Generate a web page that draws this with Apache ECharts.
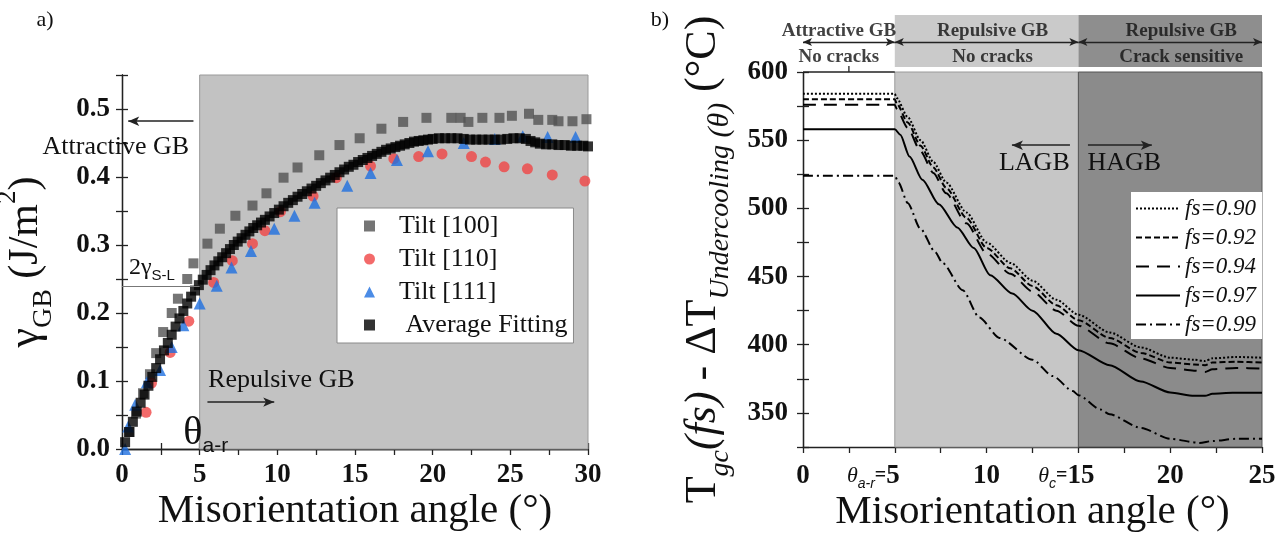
<!DOCTYPE html>
<html>
<head>
<meta charset="utf-8">
<script src="https://cdn.jsdelivr.net/npm/echarts@6/dist/echarts.min.js"></script>
<style>
html, body { margin: 0; padding: 0; background: #fff; }
#chart { width: 1288px; height: 538px; }
</style>
</head>
<body>
<div id="chart"></div>
<script>
// ---- Panel a: grain-boundary energy vs misorientation angle (deg, J/m^2) ----
const tilt100 = [[0.5,0.025],[0.9,0.052],[1.35,0.082],[1.8,0.11],[2.2,0.141],[2.65,0.172],[3.2,0.2],[3.6,0.221],[4.2,0.25],[4.6,0.273],[5.5,0.302],[6.3,0.324],[7.3,0.343],[8.4,0.358],[9.3,0.376],[10.4,0.399],[11.3,0.414],[12.7,0.432],[14.0,0.447],[15.3,0.457],[16.7,0.471],[18.1,0.481],[19.6,0.487],[21.2,0.487],[21.8,0.487],[22.3,0.481],[23.2,0.487],[24.3,0.487],[25.1,0.49],[26.2,0.493],[26.8,0.484],[27.7,0.484],[28.1,0.482],[29.0,0.482],[29.9,0.485]];
const tilt110 = [[1.55,0.054],[1.9,0.097],[3.1,0.142],[4.3,0.188],[5.9,0.245],[7.1,0.277],[8.4,0.302],[9.2,0.321],[10.2,0.349],[12.3,0.372],[13.8,0.399],[16.0,0.416],[17.5,0.427],[19.1,0.43],[20.6,0.434],[22.5,0.43],[23.4,0.422],[24.6,0.415],[26.1,0.412],[27.7,0.403],[29.8,0.394]];
const tilt111 = [[0.2,0.0],[0.4,0.033],[0.85,0.065],[1.6,0.098],[2.45,0.116],[3.2,0.15],[3.95,0.182],[5.0,0.214],[6.1,0.24],[7.05,0.267],[8.3,0.291],[9.8,0.324],[11.1,0.343],[12.4,0.362],[14.5,0.387],[16.0,0.406],[17.7,0.425],[19.7,0.438],[22.0,0.45],[24.0,0.456],[25.8,0.46],[27.4,0.459],[29.2,0.459]];
const avgFit = [[0.2,0.010],[0.45,0.025],[0.7,0.040],[0.95,0.055],[1.2,0.068],[1.45,0.080],[1.7,0.093],[1.95,0.106],[2.2,0.119],[2.45,0.132],[2.7,0.145],[2.95,0.156],[3.2,0.168],[3.45,0.180],[3.7,0.192],[3.95,0.203],[4.2,0.214],[4.45,0.224],[4.7,0.233],[4.95,0.241],[5.2,0.249],[5.45,0.256],[5.7,0.263],[5.95,0.270],[6.2,0.276],[6.45,0.282],[6.7,0.288],[6.95,0.294],[7.2,0.300],[7.45,0.305],[7.7,0.310],[7.95,0.315],[8.2,0.320],[8.45,0.325],[8.7,0.329],[8.95,0.333],[9.2,0.337],[9.5,0.342],[9.8,0.347],[10.1,0.352],[10.4,0.357],[10.7,0.362],[11.0,0.366],[11.3,0.371],[11.6,0.375],[11.9,0.379],[12.2,0.383],[12.5,0.387],[12.8,0.391],[13.1,0.395],[13.4,0.399],[13.7,0.403],[14.0,0.407],[14.3,0.411],[14.6,0.415],[14.9,0.418],[15.2,0.422],[15.5,0.425],[15.8,0.428],[16.1,0.431],[16.4,0.434],[16.7,0.437],[17.0,0.440],[17.3,0.442],[17.6,0.444],[17.9,0.446],[18.2,0.448],[18.5,0.450],[18.8,0.452],[19.1,0.453],[19.4,0.454],[19.7,0.455],[20.0,0.456],[20.4,0.457],[20.8,0.457],[21.2,0.457],[21.6,0.457],[22.0,0.456],[22.4,0.455],[22.8,0.455],[23.2,0.455],[23.6,0.455],[24.0,0.455],[24.4,0.455],[24.8,0.456],[25.2,0.457],[25.6,0.457],[26.0,0.456],[26.3,0.453],[26.6,0.451],[26.9,0.449],[27.3,0.448],[27.7,0.448],[28.1,0.447],[28.5,0.447],[28.9,0.446],[29.3,0.446],[29.7,0.446],[30.0,0.445]];
const tiltNames = ['Tilt [100]', 'Tilt [110]', 'Tilt [111]', 'Average Fitting'];
const gammaSL2 = 0.24;   // 2*gamma_S-L level
const thetaAR = 5;       // attractive/repulsive transition angle
const thetaC = 15;       // LAGB/HAGB transition angle

// ---- Panel b: T_gc(fs) - dT_undercooling vs misorientation angle (deg, degC) ----
const fsNames = ['fs=0.90', 'fs=0.92', 'fs=0.94', 'fs=0.97', 'fs=0.99'];
const fs090 = [[0,584],[5,584],[5.1,581],[5.7,567],[6.4,550],[7.1,534],[7.8,519],[8.9,497],[10,475],[11.3,460],[12.5,447],[13.8,433],[15,422],[16.7,409],[18.4,398],[20,390.5],[21.3,389],[21.9,388],[22.3,390],[23.6,391],[25,390.5]];
const fs092 = [[0,580],[5,580],[5.1,577],[5.7,563],[6.4,546],[7.1,530],[7.8,515],[8.9,493],[10,471],[11.3,456],[12.5,443],[13.8,429],[15,418],[16.7,405],[18.4,394],[20,387],[21.3,385.5],[21.9,385],[22.3,387],[23.6,387.5],[25,387]];
const fs094 = [[0,576],[5,576],[5.1,573],[5.7,559],[6.4,542],[7.1,526],[7.8,511],[8.9,489],[10,467],[11.3,452],[12.5,439],[13.8,425],[15,414],[16.7,401],[18.4,390],[20,383],[21.3,381],[21.9,380],[22.3,382],[23.6,383],[25,382.5]];
const fs097 = [[0,558],[5,558],[5.3,554],[5.8,538],[6.5,521],[7.4,503],[8.4,486],[9.3,471],[10.2,451],[11.4,437.5],[12.5,425],[13.8,408],[15,396],[16.7,385],[18.4,373],[20,365],[21.3,362.5],[21.9,362.5],[22.3,364],[23.4,364.7],[25,364.7]];
const fs099 = [[0,524],[5,524],[5.2,519],[5.7,504],[6.4,485],[7.2,468],[7.6,460],[8.7,440],[9.6,420],[10.7,405],[12.5,389],[13.6,377],[14.7,366],[15,363],[16.2,352.5],[16.7,349],[18.4,339],[20,331],[21.6,328],[22.3,329.4],[23.6,331],[25,331]];
const fsSeries = [fs090, fs092, fs094, fs097, fs099];
const zoneEdges = [0, 5, 15, 25];
const zoneTitles = ['Attractive GB', 'Repulsive GB', 'Repulsive GB'];
const zoneNotes = ['No cracks', 'No cracks', 'Crack sensitive'];

const SERIF = '"Liberation Serif", "Times New Roman", serif';
const SANS = '"Liberation Sans", Arial, sans-serif';
const INK = '#111';

const axisLine = { show: true, lineStyle: { color: '#222', width: 1.3 } };
const tick = { show: true, inside: false, length: 6, lineStyle: { color: '#222', width: 1.3 } };
const minor = { show: true, splitNumber: 2, length: 6, lineStyle: { color: '#222', width: 1.3 } };
const tickFont = { fontFamily: SERIF, fontWeight: 'bold', fontSize: 27, color: INK };
const noSplit = { show: false };

const lineTypes = ['dotted', [6, 3], [13, 8], 'solid', [10, 4, 2, 4]];
// header label nudges (px) so each caption sits where it is printed
const headerNudge = [-10, 6, 11];

const chart = echarts.init(document.getElementById('chart'), null, { renderer: 'canvas' });

const headerData = [];
for (let i = 0; i < zoneTitles.length; i++) {
  const mid = (zoneEdges[i] + zoneEdges[i + 1]) / 2;
  headerData.push({ value: [mid, 0.69, zoneTitles[i]], label: { offset: [headerNudge[i], 0] } });
  headerData.push({ value: [mid, 0.19, zoneNotes[i]], label: { offset: [headerNudge[i], 0] } });
}

const option = {
  animation: false,
  backgroundColor: '#fff',
  grid: [
    { left: 122, top: 75, width: 466, height: 374, outerBoundsMode: 'none' },
    { left: 803, top: 72, width: 459, height: 375, outerBoundsMode: 'none' },
    { left: 803, top: 15, width: 459, height: 52, outerBoundsMode: 'none' }
  ],
  xAxis: [
    { gridIndex: 0, type: 'value', position: 'bottom', min: 0, max: 30, interval: 5,
      axisLine, axisTick: tick, minorTick: minor, splitLine: noSplit, minorSplitLine: noSplit,
      axisLabel: Object.assign({ margin: 13 }, tickFont),
      name: 'Misorientation angle (°)', nameLocation: 'middle', nameGap: 42, nameMoveOverlap: false,
      nameTextStyle: { fontFamily: SERIF, fontSize: 41, color: INK } },
    { gridIndex: 0, type: 'value', position: 'top', min: 0, max: 30, interval: 2.5,
      axisLine, axisTick: tick, axisLabel: { show: false }, splitLine: noSplit },
    { gridIndex: 1, type: 'value', position: 'bottom', min: 0, max: 25, interval: 5,
      axisLine, axisTick: tick, minorTick: minor, splitLine: noSplit, minorSplitLine: noSplit,
      axisLabel: {
        margin: 14, color: INK,
        formatter: v => v === thetaAR ? '{it|θ}{sb|a-r}{eq|=}{b|' + v + '}{sp| }'
                     : v === thetaC ? '{it|θ}{sb|c}{eq|=}{b|' + v + '}{sp2| }'
                     : '{b|' + v + '}',
        rich: {
          b: { fontFamily: SERIF, fontWeight: 'bold', fontSize: 27, color: INK, lineHeight: 30 },
          it: { fontFamily: SERIF, fontStyle: 'italic', fontSize: 22, color: INK, lineHeight: 30 },
          sb: { fontFamily: SANS, fontStyle: 'italic', fontSize: 14, color: INK, lineHeight: 14, verticalAlign: 'bottom' },
          eq: { fontFamily: SERIF, fontWeight: 'bold', fontSize: 20, color: INK, lineHeight: 30 },
          sp: { width: 43, lineHeight: 30 },
          sp2: { width: 24, lineHeight: 30 }
        }
      },
      name: 'Misorientation angle (°)', nameLocation: 'middle', nameGap: 45, nameMoveOverlap: false,
      nameTextStyle: { fontFamily: SERIF, fontSize: 41, color: INK } },
    { gridIndex: 1, type: 'value', position: 'top', min: 0, max: 25, interval: 2.5,
      axisLine: { show: true, lineStyle: { color: '#fff', width: 1.5 } },
      axisTick: { show: true, length: 5, lineStyle: { color: '#fff', width: 1.5 } },
      axisLabel: { show: false }, splitLine: noSplit },
    { gridIndex: 2, type: 'value', min: 0, max: 25, show: false }
  ],
  yAxis: [
    { gridIndex: 0, type: 'value', position: 'left', min: 0, max: 0.55, interval: 0.05,
      axisLine, axisTick: tick, splitLine: noSplit,
      axisLabel: Object.assign({ margin: 12,
        formatter: v => { const k = Math.round(v * 100); return k % 10 === 0 ? (k / 100).toFixed(1) : ''; } }, tickFont),
      name: '{g|γ}{s|GB}{n| (J/m}{p|2}{n|)}', nameLocation: 'middle', nameRotate: 90, nameGap: 64, nameMoveOverlap: false,
      nameTextStyle: {
        color: INK,
        rich: {
          g: { fontFamily: SERIF, fontSize: 44, color: INK, lineHeight: 64 },
          n: { fontFamily: SERIF, fontSize: 42, color: INK, lineHeight: 64 },
          s: { fontFamily: SERIF, fontSize: 28, color: INK, lineHeight: 28, verticalAlign: 'bottom' },
          p: { fontFamily: SERIF, fontSize: 27, color: INK, lineHeight: 28, verticalAlign: 'top' }
        }
      } },
    { gridIndex: 0, type: 'value', position: 'right', min: 0, max: 0.55, interval: 0.05,
      axisLine, axisTick: tick, axisLabel: { show: false }, splitLine: noSplit },
    { gridIndex: 1, type: 'value', position: 'left', min: 325, max: 600, interval: 25,
      axisLine, axisTick: tick, splitLine: noSplit,
      axisLabel: Object.assign({ margin: 15, formatter: v => v % 50 === 0 ? String(v) : '' }, tickFont),
      name: '{m|T}{s|gc}{i|(fs)}{m| - ΔT}{s|Undercooling}{s2| (θ)}{m| (°C)}',
      nameLocation: 'middle', nameRotate: 90, nameGap: 68, nameMoveOverlap: false,
      nameTextStyle: {
        color: INK,
        rich: {
          m: { fontFamily: SERIF, fontSize: 44, color: INK, lineHeight: 64 },
          i: { fontFamily: SERIF, fontStyle: 'italic', fontSize: 44, color: INK, lineHeight: 64 },
          s: { fontFamily: SERIF, fontStyle: 'italic', fontSize: 28, color: INK, lineHeight: 28, verticalAlign: 'bottom' },
          s2: { fontFamily: SERIF, fontStyle: 'italic', fontSize: 30, color: INK, lineHeight: 30, verticalAlign: 'bottom' }
        }
      } },
    { gridIndex: 1, type: 'value', position: 'right', min: 325, max: 600, interval: 25,
      axisLine, axisTick: tick, axisLabel: { show: false }, splitLine: noSplit },
    { gridIndex: 2, type: 'value', min: 0, max: 1, show: false }
  ],
  legend: [
    { orient: 'vertical', left: 337, top: 208, selectedMode: false,
      data: [{ name: tiltNames[0], icon: 'rect' }, { name: tiltNames[1], icon: 'circle' },
             { name: tiltNames[2], icon: 'triangle' }, { name: tiltNames[3], icon: 'rect' }],
      itemWidth: 11, itemHeight: 11, itemGap: 7, symbolKeepAspect: true,
      formatter: n => n === tiltNames[3] ? ' ' + n : n,
      textStyle: { fontFamily: SERIF, fontSize: 26, color: INK, lineHeight: 26, padding: [0, 0, 0, 19] },
      backgroundColor: '#fff', borderColor: '#8a8a8a', borderWidth: 1, borderRadius: 0,
      padding: [5, 6, 5, 27] },
    { orient: 'vertical', left: 1131, top: 192, selectedMode: false,
      data: fsNames,
      itemWidth: 44, itemHeight: 12, itemGap: 6,
      itemStyle: { opacity: 0 },
      textStyle: { fontFamily: SERIF, fontStyle: 'italic', fontSize: 23, color: INK, lineHeight: 23 },
      backgroundColor: '#fff', borderWidth: 0, borderRadius: 0,
      padding: [5, 6, 3, 4] }
  ],
  series: [
    // shaded repulsive range, 2*gamma_SL level and arrows in panel a
    { type: 'line', xAxisIndex: 0, yAxisIndex: 0, data: [[0, 0]], showSymbol: false,
      lineStyle: { opacity: 0 }, silent: true, z: 1,
      markArea: { silent: true, itemStyle: { color: '#c2c2c2', borderColor: '#9a9a9a', borderWidth: 1 },
        data: [[{ xAxis: thetaAR }, { xAxis: 30 }]] },
      markLine: { silent: true, animation: false, label: { show: false },
        lineStyle: { color: '#222', width: 1.5, type: 'solid' },
        data: [
          [{ coord: [0, gammaSL2], symbol: 'none', lineStyle: { color: '#777', width: 1 } },
           { coord: [thetaAR, gammaSL2], symbol: 'none' }],
          [{ coord: [4.6, 0.482], symbol: 'none' }, { coord: [0.4, 0.482], symbol: 'arrow', symbolSize: [7, 11] }],
          [{ coord: [5.5, 0.069], symbol: 'none' }, { coord: [9.8, 0.069], symbol: 'arrow', symbolSize: [7, 11] }]
        ] } },
    { name: tiltNames[0], type: 'scatter', xAxisIndex: 0, yAxisIndex: 0, data: tilt100,
      symbol: 'rect', symbolSize: 10, itemStyle: { color: '#525252' }, z: 3 },
    { name: tiltNames[1], type: 'scatter', xAxisIndex: 0, yAxisIndex: 0, data: tilt110,
      symbol: 'circle', symbolSize: 11, itemStyle: { color: '#f04545' }, z: 3 },
    { name: tiltNames[2], type: 'scatter', xAxisIndex: 0, yAxisIndex: 0, data: tilt111,
      symbol: 'triangle', symbolSize: 12, itemStyle: { color: '#1e6fe0' }, z: 3 },
    { name: tiltNames[3], type: 'scatter', xAxisIndex: 0, yAxisIndex: 0, data: avgFit,
      symbol: 'rect', symbolSize: 10, itemStyle: { color: '#000' }, z: 4 },

    // shaded zones and LAGB/HAGB arrows in panel b
    { type: 'line', xAxisIndex: 2, yAxisIndex: 2, data: [[0, 325]], showSymbol: false,
      lineStyle: { opacity: 0 }, silent: true, z: 1,
      markArea: { silent: true,
        data: [
          [{ xAxis: zoneEdges[1], itemStyle: { color: '#c6c6c6', borderColor: '#9a9a9a', borderWidth: 1 } }, { xAxis: zoneEdges[2] }],
          [{ xAxis: zoneEdges[2], itemStyle: { color: '#8b8b8b', borderColor: '#555', borderWidth: 1 } }, { xAxis: zoneEdges[3] }]
        ] },
      markLine: { silent: true, animation: false, label: { show: false },
        lineStyle: { color: '#222', width: 1.5, type: 'solid' },
        data: [
          [{ coord: [14.54, 546.3], symbol: 'none' }, { coord: [11.38, 546.3], symbol: 'arrow', symbolSize: [7, 11] }],
          [{ coord: [15.52, 546.3], symbol: 'none' }, { coord: [19.0, 546.3], symbol: 'arrow', symbolSize: [7, 11] }]
        ] } },
    ...fsSeries.map((d, i) => ({
      name: fsNames[i], type: 'line', xAxisIndex: 2, yAxisIndex: 2, data: d,
      showSymbol: false, symbol: 'none', smooth: 0.25, smoothMonotone: 'x', z: 3,
      lineStyle: { color: '#000', width: 2, type: lineTypes[i] },
      itemStyle: { color: '#000' }
    })),

    // header band above panel b
    { type: 'scatter', xAxisIndex: 4, yAxisIndex: 4, data: headerData, symbolSize: 0, silent: true, z: 5,
      label: { show: true, position: 'inside', formatter: p => p.value[2],
        fontFamily: SERIF, fontWeight: 'bold', fontSize: 19, color: INK },
      markArea: { silent: true,
        data: [
          [{ xAxis: zoneEdges[1], itemStyle: { color: '#cacaca' } }, { xAxis: zoneEdges[2] }],
          [{ xAxis: zoneEdges[2], itemStyle: { color: '#8e8e8e' } }, { xAxis: zoneEdges[3] }]
        ] },
      markLine: { silent: true, animation: false, label: { show: false },
        lineStyle: { color: '#222', width: 1.3, type: 'solid' }, symbol: ['arrow', 'arrow'], symbolSize: [6, 9],
        data: [0, 1, 2].map(i => [{ coord: [zoneEdges[i], 0.48] }, { coord: [zoneEdges[i + 1], 0.48] }]) } }
  ]
};

chart.setOption(option);

// free-standing annotations, positioned through the axes' own scales
const pa = (x, y) => chart.convertToPixel({ xAxisIndex: 0, yAxisIndex: 0 }, [x, y]);
const pb = (x, y) => chart.convertToPixel({ xAxisIndex: 2, yAxisIndex: 2 }, [x, y]);
const txt = (pos, text, extra) => ({
  type: 'text', x: pos[0], y: pos[1], silent: true, z: 100,
  style: Object.assign({ text, fill: INK, fontFamily: SERIF, fontSize: 26, align: 'center', verticalAlign: 'middle' }, extra || {})
});

const topLeft = pb(0, 600), topMid = pb(thetaAR, 600), topTick = pb(2.5, 600);
const graphics = [
  { type: 'text', x: 45, y: 20, silent: true, style: { text: 'a)', fill: INK, fontFamily: SERIF, fontSize: 22, align: 'center', verticalAlign: 'middle' } },
  { type: 'text', x: 660, y: 20, silent: true, style: { text: 'b)', fill: INK, fontFamily: SERIF, fontSize: 22, align: 'center', verticalAlign: 'middle' } },
  txt(pa(-0.4, 0.444), 'Attractive GB'),
  txt(pa(5.54, 0.101), 'Repulsive GB', { align: 'left' }),
  txt(pa(0.45, gammaSL2 + 0.004), '{a|2γ}{b|S-L}', { align: 'left', verticalAlign: 'bottom',
    rich: { a: { fontFamily: SERIF, fontSize: 24, fill: INK, lineHeight: 30 },
            b: { fontFamily: SANS, fontSize: 15, fill: INK, lineHeight: 15, verticalAlign: 'bottom' } } }),
  txt(pa(3.95, -0.012), '{t|θ}{s|a-r}', { align: 'left', verticalAlign: 'bottom',
    rich: { t: { fontFamily: SERIF, fontSize: 40, fill: INK, lineHeight: 48 },
            s: { fontFamily: SANS, fontSize: 21, fill: INK, lineHeight: 24, verticalAlign: 'bottom' } } }),
  txt(pb(12.6, 533), 'LAGB'),
  txt(pb(17.5, 533), 'HAGB'),
  { type: 'line', silent: true, z: 100, shape: { x1: topLeft[0], y1: topLeft[1], x2: topMid[0], y2: topMid[1] },
    style: { stroke: '#222', lineWidth: 1.3 } },
  { type: 'line', silent: true, z: 100, shape: { x1: topTick[0], y1: topTick[1], x2: topTick[0], y2: topTick[1] - 6 },
    style: { stroke: '#222', lineWidth: 1.3 } }
];
chart.setOption({ graphic: graphics });
</script>
</body>
</html>
